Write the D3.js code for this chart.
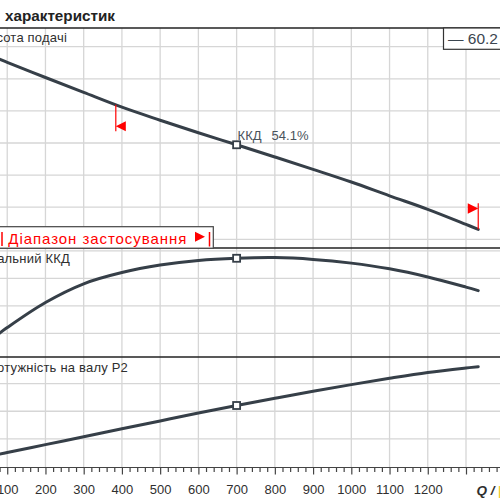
<!DOCTYPE html>
<html>
<head>
<meta charset="utf-8">
<script src="https://cdn.jsdelivr.net/npm/d3@7"></script>
<style>
body { margin: 0; background: #fff; }
svg { display: block; font-family: "Liberation Sans", Arial, sans-serif; }
</style>
</head>
<body>
<div id="chart"></div>
<script>
// pump curves, values
var flow  = [75, 100, 200, 300, 400, 500, 600, 700, 800, 900, 1000, 1100, 1200, 1300, 1332];
var head  = [13.27, 13.03, 12.08, 11.15, 10.23, 9.42, 8.64, 7.89, 7.13, 6.36, 5.57, 4.71, 3.87, 2.93, 2.62];
var eff   = [19.4, 22.6, 34.0, 42.5, 47.6, 51.0, 53.1, 54.1, 54.4, 53.6, 51.9, 49.3, 45.6, 41.0, 39.4];
var power = [0.219, 0.253, 0.396, 0.539, 0.682, 0.825, 0.967, 1.104, 1.234, 1.361, 1.482, 1.596, 1.701, 1.783, 1.806];

var xLabels = [100, 200, 300, 400, 500, 600, 700, 800, 900, 1000, 1100, 1200];
var headTicks = [2, 4, 6, 8, 10, 12, 14];
var effTicks = [20, 32.5, 45, 57.5];
var powerTicks = [0.5, 1, 1.5];

var dutyFlow = 700, dutyEff = 54.1;
var rangeMin = 384, rangeMax = 1332;
var speedLabel = "60.2";

var w = 500, h = 500;
var vis = d3.select("#chart").append("svg").attr("width", w).attr("height", h);

var plotTop = 28, div1 = 248, div2 = 357, axisY = 467.5;
var curveColor = "#363f48", gridColor = "#d6d6d6", red = "#ff0000";

var x = d3.scaleLinear().domain([0, 1300]).range([-31, 466]);
var yHead = d3.scaleLinear().domain([2, 14]).range([239.3, 46.7]);
var yEff = d3.scaleLinear().domain([20, 45]).range([333.3, 278.3]);
var yPow = d3.scaleLinear().domain([0, 2]).range([466.5, 356]);

// grid
var xMajor = d3.range(100, 1400, 100);
var xMinor = d3.range(0, 1420, 20).filter(d => d % 100 != 0);

vis.selectAll("line.vgrid").data(xMajor).enter().append("line")
   .attr("class", "vgrid")
   .attr("x1", d => x(d)).attr("x2", d => x(d))
   .attr("y1", plotTop).attr("y2", axisY)
   .attr("stroke", gridColor).attr("stroke-width", 1.3);

function hgrid(ticks, scale, cls) {
  vis.selectAll("line." + cls).data(ticks).enter().append("line")
     .attr("class", cls)
     .attr("x1", 0).attr("x2", w)
     .attr("y1", d => scale(d)).attr("y2", d => scale(d))
     .attr("stroke", gridColor).attr("stroke-width", 1.3);
}
hgrid(headTicks, yHead, "hg1");
hgrid(effTicks, yEff, "hg2");
hgrid(powerTicks, yPow, "hg3");

// panel separators
[plotTop, div1, div2].forEach(function(yy) {
  vis.append("line").attr("x1", 0).attr("x2", w).attr("y1", yy).attr("y2", yy)
     .attr("stroke", "#222").attr("stroke-width", 1.4);
});

// title
vis.append("text").attr("x", 5).attr("y", 21)
   .attr("font-size", 14.5).attr("font-weight", "bold").attr("fill", "#222")
   .attr("textLength", 110).attr("lengthAdjust", "spacingAndGlyphs")
   .text("характеристик");

// panel labels (cut at left edge like the original)
var labelColor = "#2f2f2f";
function panelLabel(xr, yy, txt) {
  vis.append("text").attr("x", xr).attr("y", yy).attr("text-anchor", "end")
     .attr("font-size", 13).attr("letter-spacing", 0.2).attr("fill", labelColor).text(txt);
}
panelLabel(67, 42, "Висота подачі");
panelLabel(70, 263, "Загальний ККД");
panelLabel(128, 371.5, "Потужність на валу  P2");

// curves
function drawCurve(vals, scale) {
  var line = d3.line()
      .x((d, i) => x(flow[i]))
      .y(d => scale(d))
      .curve(d3.curveCatmullRom.alpha(0.5));
  vis.append("path").datum(vals)
     .attr("d", line)
     .attr("fill", "none")
     .attr("stroke", curveColor)
     .attr("stroke-width", 3)
     .attr("stroke-linecap", "round");
}
drawCurve(head, yHead);
drawCurve(eff, yEff);
drawCurve(power, yPow);

// duty point markers
var di = flow.indexOf(dutyFlow);
[[head, yHead], [eff, yEff], [power, yPow]].forEach(function(p) {
  vis.append("rect")
     .attr("x", x(dutyFlow) - 3.5).attr("y", p[1](p[0][di]) - 3.5)
     .attr("width", 7).attr("height", 7)
     .attr("fill", "#fff").attr("stroke", curveColor).attr("stroke-width", 1.8);
});

var effLabel = vis.append("text").attr("y", 139.5).attr("font-size", 13).attr("fill", "#4a525b");
effLabel.append("tspan").attr("x", x(dutyFlow) + 1).text("ККД");
effLabel.append("tspan").attr("x", x(dutyFlow) + 35).text(dutyEff.toFixed(1) + "%");

// operating range flags
var headAt = d3.scaleLinear().domain(flow).range(head);
var hMin = yHead(headAt(rangeMin));
var xMinF = x(rangeMin);
vis.append("line").attr("x1", xMinF).attr("x2", xMinF).attr("y1", hMin).attr("y2", hMin + 26.5)
   .attr("stroke", red).attr("stroke-width", 1.2);
vis.append("path")
   .attr("d", "M" + xMinF + "," + (hMin + 21.5) + "L" + (xMinF + 10) + "," + (hMin + 16.5) + "L" + (xMinF + 10) + "," + (hMin + 26.5) + "Z")
   .attr("fill", red);

var hMax = yHead(headAt(rangeMax));
var xMaxF = x(rangeMax);
vis.append("line").attr("x1", xMaxF).attr("x2", xMaxF).attr("y1", hMax).attr("y2", hMax - 26)
   .attr("stroke", red).attr("stroke-width", 1.2);
vis.append("path")
   .attr("d", "M" + xMaxF + "," + (hMax - 20.8) + "L" + (xMaxF - 10.5) + "," + (hMax - 26) + "L" + (xMaxF - 10.5) + "," + (hMax - 15.6) + "Z")
   .attr("fill", red);

// range legend box
vis.append("rect").attr("x", -10).attr("y", 226.7).attr("width", 223.3).attr("height", 21.5)
   .attr("fill", "#fff").attr("stroke", "#444").attr("stroke-width", 1.2);
vis.append("line").attr("x1", 2).attr("x2", 2).attr("y1", 232).attr("y2", 246)
   .attr("stroke", red).attr("stroke-width", 1.5);
vis.append("text").attr("x", 8.3).attr("y", 243.5)
   .attr("font-size", 15).attr("fill", red)
   .attr("textLength", 178).attr("lengthAdjust", "spacing")
   .text("Діапазон застосування");
vis.append("path").attr("d", "M195,231.7L205,236.7L195,241.7Z").attr("fill", red);
vis.append("line").attr("x1", 209.5).attr("x2", 209.5).attr("y1", 232).attr("y2", 246.5)
   .attr("stroke", red).attr("stroke-width", 1.5);

// speed legend box, top right
vis.append("rect").attr("x", 443.5).attr("y", plotTop).attr("width", 70).attr("height", 21.3)
   .attr("fill", "#fff").attr("stroke", "#333").attr("stroke-width", 1.2);
vis.append("text").attr("x", 448).attr("y", 43.5)
   .attr("font-size", 15.5).attr("fill", "#3c4650")
   .text("— " + speedLabel);

// x axis
vis.append("line").attr("x1", 0).attr("x2", w).attr("y1", axisY).attr("y2", axisY)
   .attr("stroke", "#444").attr("stroke-width", 1.2);

var axisMajor = vis.append("g").attr("transform", "translate(0," + axisY + ")")
   .call(d3.axisBottom(x).tickValues(xMajor).tickSize(7).tickPadding(10)
         .tickFormat(d => xLabels.indexOf(d) >= 0 ? d : ""));
var axisMinor = vis.append("g").attr("transform", "translate(0," + axisY + ")")
   .call(d3.axisBottom(x).tickValues(xMinor).tickSize(4.5).tickFormat(""));
[axisMajor, axisMinor].forEach(function(g) {
  g.select(".domain").remove();
  g.selectAll("line").attr("stroke", "#444").attr("stroke-width", 1.2);
});
axisMajor.selectAll("text")
   .attr("font-family", "Liberation Sans, Arial, sans-serif")
   .attr("font-size", 13).attr("fill", "#2f2f2f");

var qLabel = vis.append("text").attr("x", 476.5).attr("y", 495)
   .attr("font-size", 13.5).attr("font-weight", "bold").attr("font-style", "italic")
   .attr("fill", "#2f2f2f");
qLabel.append("tspan").text("Q / ");
qLabel.append("tspan").attr("fill", "#f0c93a").attr("font-style", "normal").text("[м³/год]");
</script>
</body>
</html>
